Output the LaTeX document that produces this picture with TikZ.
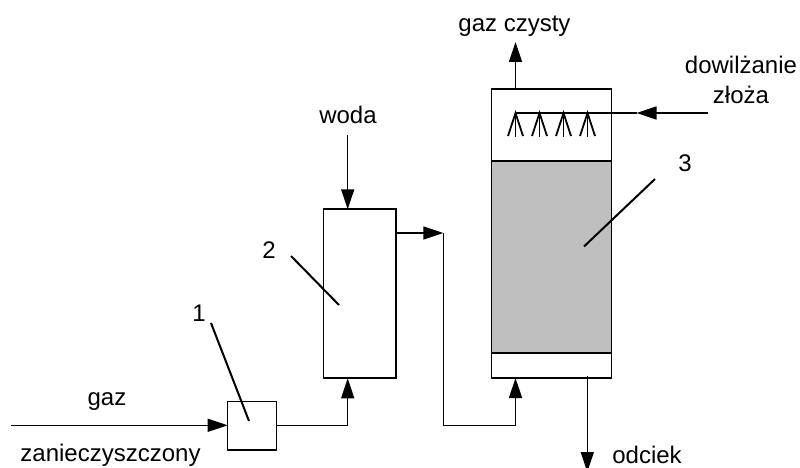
\documentclass[tikz,border=0pt]{standalone}
\usepackage{fontspec}
\setmainfont{Liberation Sans}
\usetikzlibrary{arrows.meta}
\tikzset{>={Triangle[width=13pt,length=20pt]}}
\tikzset{
  unitbox/.style={draw=black, line width=1.5pt, fill=white, inner sep=0pt, outer sep=0pt},
  bedbox/.style={unitbox, fill=black!25},
  flow/.style={line width=1.5pt},
  spray/.style={line width=1.8pt},
  leader/.style={line width=2pt},
  label/.style={inner sep=0pt, anchor=base, font=\fontsize{24}{28}\selectfont}
}
\begin{document}
\begin{tikzpicture}[x=1pt, y=-1pt]

  \useasboundingbox (0,0) rectangle (800,468);

  \node[unitbox, minimum width=49pt, minimum height=48.5pt] (box1) at (252.2,425.8) {};
  \node[unitbox, minimum width=72.5pt, minimum height=169pt] (box2) at (359.5,293.7) {};
  \node[unitbox, minimum width=120pt, minimum height=72pt] (towertop) at (551.7,125) {};
  \node[bedbox, minimum width=120pt, minimum height=192pt] (towerbed) at (551.7,257) {};
  \node[unitbox, minimum width=120pt, minimum height=25pt] (towerbase) at (551.7,365.5) {};

  \node[label] (gaz) at (107,405) {gaz};
  \node[label] (zanieczyszczony) at (110.5,461) {zanieczyszczony};
  \node[label] (woda) at (348,124) {woda};
  \node[label] (czysty) at (514.5,32) {gaz czysty};
  \node[label] (dowilzanie) at (741,74) {dowilżanie};
  \node[label] (zloza) at (741,104) {złoża};
  \node[label] (odciek) at (647,463) {odciek};
  \node[label] (num1) at (199,321) {1};
  \node[label] (num2) at (269,258) {2};
  \node[label] (num3) at (685,171) {3};

  \coordinate (gazin) at (11,425.3);
  \coordinate (box1in) at (box1.west |- gazin);
  \coordinate (box1out) at (box1.east |- gazin);
  \coordinate (box2in) at (347.7,378.3);
  \coordinate (wodain) at (347.7,135);
  \coordinate (box2top) at (347.7,209.3);
  \coordinate (box2out) at (395.7,233);
  \coordinate (risetop) at (443.3,233);
  \coordinate (towerin) at (515.5,378);
  \coordinate (towerout) at (515.5,89);
  \coordinate (czystytip) at (515.5,42);
  \coordinate (feedout) at (708,113);
  \coordinate (feedtip) at (636.5,113);
  \coordinate (feedend) at (515.5,113);
  \coordinate (drainout) at (587.3,376);
  \coordinate (draintip) at (587.3,472);

  \draw[flow,->] (gazin) -- (box1in);
  \draw[flow,->] (box1out) -| (box2in);
  \draw[flow,->] (wodain) -- (box2top);
  \draw[flow,->] (box2out) -- (risetop);
  \draw[flow,->] (risetop) |- (443.3,425.3) -| (towerin);
  \draw[flow,->] (towerout) -- (czystytip);
  \draw[flow,->] (feedout) -- (feedtip);
  \draw[flow] (feedtip) -- (feedend);
  \draw[flow,->] (drainout) -- (draintip);

  \foreach \x in {515.5,539.5,563.5,587.5}{
    \draw[spray] (\x,113) -- (\x,137);
    \draw[spray] (\x-7.5,136) -- (\x,113) -- (\x+7.5,136);
  }

  \coordinate (lead1a) at (211,323);
  \coordinate (lead1b) at (249,421);
  \coordinate (lead2a) at (291,256);
  \coordinate (lead2b) at (339,305);
  \coordinate (lead3a) at (655,179);
  \coordinate (lead3b) at (584,246.5);
  \draw[leader] (lead1a) -- (lead1b);
  \draw[leader] (lead2a) -- (lead2b);
  \draw[leader] (lead3a) -- (lead3b);

\end{tikzpicture}
\end{document}
